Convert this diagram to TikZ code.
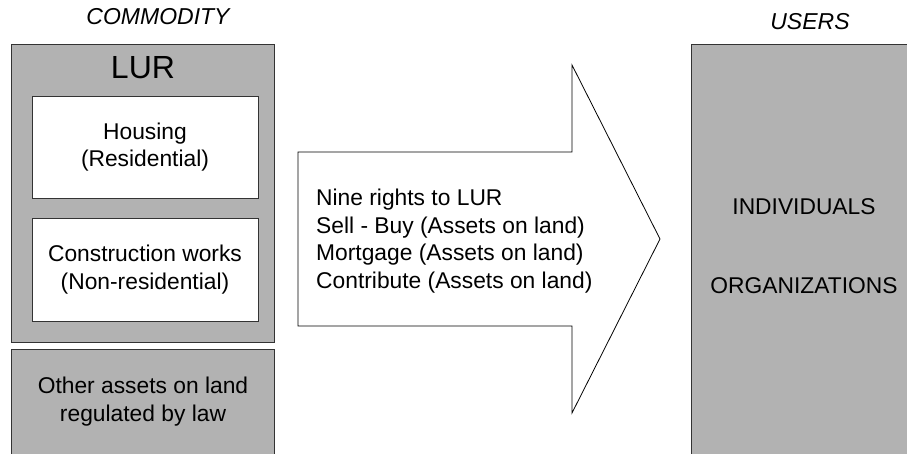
\documentclass[tikz,border=0pt]{standalone}
\usepackage{fontspec}
\setmainfont{Liberation Sans}
\begin{document}
\begin{tikzpicture}[x=1pt,y=-1pt,
  panel/.style={draw=black!80,line width=0.8pt,fill=black!30},
  inner/.style={draw=black!80,line width=0.8pt,fill=white},
  body/.style={font=\fontsize{22.8}{27.5}\selectfont,align=center,inner sep=0pt},
  heading/.style={font=\fontsize{23}{27}\selectfont\itshape,inner sep=0pt}]
\useasboundingbox (0,0) rectangle (907,454);
\clip (0,0) rectangle (907,454);
% column headings
\node[heading] (commodity) at (158,17) {COMMODITY};
\node[heading] (users) at (810,22) {USERS};
% LUR panel with its two categories
\draw[panel] (11,44) rectangle (274,342);
\node[font=\fontsize{32}{36}\selectfont,inner sep=0pt] (lur) at (143,68) {LUR};
\draw[inner] (32,96) rectangle (258,198);
\node[body] (housing) at (145,147) {Housing\\(Residential)};
\draw[inner] (32,218) rectangle (258,321);
\node[body] (works) at (145,269.5) {Construction works\\(Non-residential)};
% other assets
\draw[panel] (11,349) rectangle (274,470);
\node[body] (other) at (143,401.5) {Other assets on land\\regulated by law};
% transfer arrow
\draw[line width=0.8pt,fill=white] (298,152) -- (572,152) -- (572,65) -- (660,239)
  -- (572,413) -- (572,326) -- (298,326) -- cycle;
\node[body,align=left,anchor=west] (rights) at (316,241)
  {Nine rights to LUR\\Sell - Buy (Assets on land)\\Mortgage (Assets on land)\\Contribute (Assets on land)};
% users panel
\draw[panel] (691,44) rectangle (930,470);
\node[body] (indiv) at (804,207) {INDIVIDUALS};
\node[body] (org) at (804,286) {ORGANIZATIONS};
\end{tikzpicture}
\end{document}
